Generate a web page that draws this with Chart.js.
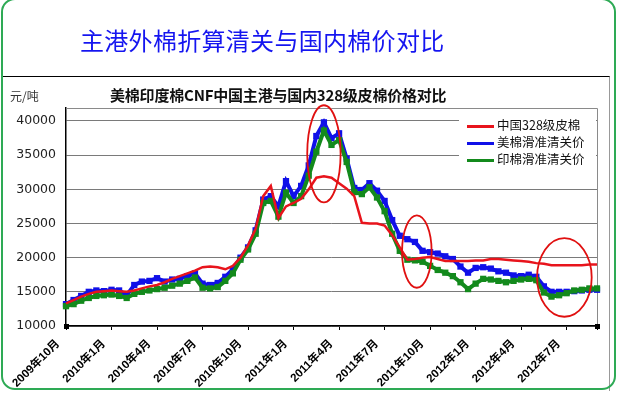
<!DOCTYPE html>
<html>
<head>
<meta charset="utf-8">
<script src="https://cdn.jsdelivr.net/npm/chart.js@4.4.1/dist/chart.umd.min.js"></script>
<style>
  html, body { margin: 0; padding: 0; background: #fff; }
  #wrap { position: relative; width: 618px; height: 396px; overflow: hidden; font-family: 'Noto Sans CJK SC', sans-serif; }
  #frame { position: absolute; left: 1px; top: -2px; width: 611px; height: 388px; border: 2px solid #2eaa55; border-radius: 14px; }
  #inner { position: absolute; left: 3px; top: 76px; width: 606px; height: 314px; border-top: 1px solid #000; border-right: 1px solid #999; }
  #title { position: absolute; left: 80px; top: 22px; font-size: 24px; color: #1515f0; letter-spacing: 0.3px; white-space: nowrap; }
  #subtitle { position: absolute; left: 110px; top: 84px; font-size: 15px; font-weight: bold; color: #111; white-space: nowrap; letter-spacing: -0.2px; }
  #unit { position: absolute; left: 10px; top: 87px; font-size: 12px; color: #333; }
  #chartBox { position: absolute; left: 0; top: 0; width: 618px; height: 396px; }
  #legend { position: absolute; left: 459px; top: 109px; width: 137px; height: 58px; background: #fff; }
  .item { position: absolute; left: 8px; height: 16px; font-size: 12.5px; color: #111; white-space: nowrap; }
  .item span { display: inline-block; width: 27px; height: 3px; vertical-align: middle; margin-right: 3px; }
</style>
</head>
<body>
<div id="wrap">
  <div id="chartBox"><canvas id="chartPreco"></canvas></div>
  <div id="inner"></div>
  <div id="frame"></div>
  <div id="title">主港外棉折算清关与国内棉价对比</div>
  <div id="unit">元/吨</div>
  <div id="subtitle">美棉印度棉CNF中国主港与国内328级皮棉价格对比</div>
  <div id="legend">
    <div class="item" style="top:6px"><span style="background:#e8141c"></span>中国328级皮棉</div>
    <div class="item" style="top:23px"><span style="background:#1010e8"></span>美棉滑准清关价</div>
    <div class="item" style="top:40px"><span style="background:#138a1c"></span>印棉滑准清关价</div>
  </div>
</div>
<script>
// rótulos do eixo x (a cada trimestre)
const tickLabels = ['2009年10月', '2010年1月', '2010年4月', '2010年7月', '2010年10月', '2011年1月',
                    '2011年4月', '2011年7月', '2011年10月', '2012年1月', '2012年4月', '2012年7月'];

// rótulos do eixo y
const yTickValues = [10000, 15000, 20000, 25000, 30000, 35000, 40000];

// semi-mensal, de 2009-10 até 2012-09
const periods = [];
for (let i = 0; i <= 70; i++) {
    const mm = 9 + Math.floor(i / 2);
    const y = 2009 + Math.floor(mm / 12);
    periods.push(y + '年' + (mm % 12 + 1) + '月' + (i % 2 ? '下' : '上'));
}

// 中国328级皮棉
const china328 = [13300, 13800, 14300, 14700, 15000, 15100, 15200, 15100, 15000, 15200,
                  15500, 15800, 16000, 16400, 16900, 17300, 17700, 18100, 18600, 18700,
                  18600, 18300, 18800, 20000, 21800, 24200, 29000, 30500, 25800, 27500,
                  28000, 28600, 30000, 31700, 31900, 31700, 30900, 30100, 29000, 25100,
                  25000, 25000, 24700, 23300, 21500, 19700, 19800, 20000, 20100, 19800,
                  19500, 19500, 19500, 19500, 19600, 19600, 19800, 19800, 19700, 19600,
                  19500, 19400, 19200, 19100, 18900, 18900, 18900, 18900, 18900, 19000, 19000];

// 美棉滑准清关价
const usCotton = [13200, 13800, 14400, 15000, 15200, 15100, 15300, 15200, 14500, 16000,
                  16500, 16600, 17000, 16500, 16800, 16900, 17300, 17700, 16200, 16000,
                  16300, 17200, 18300, 20000, 21500, 24000, 28500, 29000, 27500, 31200,
                  29000, 30500, 33500, 37800, 39800, 37500, 38200, 34500, 30200, 29900,
                  30900, 29800, 28300, 25500, 23200, 22700, 22300, 21000, 20800, 20600,
                  20200, 19800, 18700, 17800, 18500, 18600, 18400, 18000, 17800, 17400,
                  17300, 17500, 17200, 15800, 15000, 15000, 15000, 15100, 15200, 15300, 15300];

// 印棉滑准清关价
const indiaCotton = [12900, 13200, 13700, 14100, 14400, 14500, 14600, 14400, 14100, 14700,
                     15000, 15200, 15400, 15600, 15900, 16200, 16600, 17100, 15600, 15500,
                     15700, 16600, 17700, 19700, 21200, 23500, 28000, 28300, 26000, 29500,
                     28000, 29000, 32000, 35500, 38600, 36500, 37200, 34000, 29600, 29300,
                     30300, 28800, 26800, 23500, 21000, 19700, 19600, 19400, 18800, 18200,
                     17800, 17300, 16400, 15400, 16200, 16900, 16800, 16600, 16400, 16600,
                     16800, 16900, 16700, 14900, 14300, 14500, 14800, 15200, 15300, 15500, 15500];

// elipses vermelhas (centro em índice/valor, raios)
const highlights = [
    { i: 34.0, v: 35200, ri: 2.2, rv: 7100 },
    { i: 46.25, v: 20900, ri: 1.95, rv: 5300 },
    { i: 65.7, v: 17100, ri: 3.6, rv: 5750 }
];

const extras = {
    id: 'extras',
    beforeDatasetsDraw(chart) {
        const { ctx, chartArea: a } = chart;
        ctx.save();
        ctx.strokeStyle = '#8a8a8a';
        ctx.lineWidth = 1;
        ctx.beginPath();
        ctx.moveTo(a.left, a.top + 0.5);
        ctx.lineTo(a.right + 0.5, a.top + 0.5);
        ctx.lineTo(a.right + 0.5, a.bottom);
        ctx.stroke();
        ctx.restore();
    },
    afterDatasetsDraw(chart) {
        const { ctx, scales: { x, y }, chartArea: a } = chart;
        ctx.save();
        ctx.strokeStyle = '#e01010';
        ctx.lineWidth = 1.8;
        highlights.forEach(h => {
            const cx = x.getPixelForValue(h.i);
            const cy = y.getPixelForValue(h.v);
            const rx = x.getPixelForValue(h.i + h.ri) - cx;
            const ry = cy - y.getPixelForValue(h.v + h.rv);
            ctx.beginPath();
            ctx.ellipse(cx, cy, rx, ry, 0, 0, Math.PI * 2);
            ctx.stroke();
        });
        // marcadores nas pontas do eixo
        ctx.fillStyle = '#000';
        ctx.fillRect(a.left - 2, a.bottom - 2, 5, 5);
        ctx.fillRect(a.right - 2, a.bottom - 2, 5, 5);
        ctx.restore();
    }
};

document.addEventListener('DOMContentLoaded', () => {
    const ctxPreco = document.getElementById('chartPreco').getContext('2d');
    new Chart(ctxPreco, {
        type: 'line',
        data: {
            labels: periods,
            datasets: [
                {
                    label: '中国328级皮棉',
                    data: china328,
                    borderColor: '#e8141c',
                    borderWidth: 2.5,
                    pointRadius: 0,
                    order: 0
                },
                {
                    label: '美棉滑准清关价',
                    data: usCotton,
                    borderColor: '#1010e8',
                    backgroundColor: '#1010e8',
                    borderWidth: 4,
                    pointStyle: 'rect',
                    pointRadius: 1.6,
                    order: 2
                },
                {
                    label: '印棉滑准清关价',
                    data: indiaCotton,
                    borderColor: '#138a1c',
                    backgroundColor: '#138a1c',
                    borderWidth: 4,
                    pointStyle: 'rect',
                    pointRadius: 1.6,
                    order: 1
                }
            ]
        },
        options: {
            responsive: true,
            maintainAspectRatio: false,
            animation: false,
            layout: { padding: { left: 0, right: 21, top: 108, bottom: 0 } },
            plugins: { legend: { display: false }, tooltip: { enabled: false } },
            elements: { line: { tension: 0 } },
            scales: {
                x: {
                    grid: {
                        drawOnChartArea: false,
                        tickLength: 4,
                        tickColor: c => (c.index % 6 === 0 || c.index === 70) ? '#000' : 'rgba(0,0,0,0)'
                    },
                    border: { color: '#000', width: 1.5 },
                    ticks: {
                        autoSkip: false,
                        minRotation: 45,
                        maxRotation: 45,
                        padding: 7,
                        labelOffset: -8,
                        color: '#000',
                        font: { family: "'Liberation Sans', 'Noto Sans CJK SC'", size: 11.5, weight: 'bold' },
                        callback: (v, i) => i % 6 === 0 ? tickLabels[i / 6] : ''
                    },
                    afterFit: s => { s.height = 70; }
                },
                y: {
                    min: 10000,
                    max: 41900,
                    grid: { color: '#7a7a7a', drawTicks: false },
                    border: { color: '#000', width: 1.5 },
                    ticks: {
                        padding: 10,
                        color: '#222',
                        font: { family: "'DejaVu Sans'", size: 12.5 },
                        callback: v => String(v)
                    },
                    afterBuildTicks: s => { s.ticks = yTickValues.map(v => ({ value: v })); },
                    afterFit: s => { s.width = 66; }
                }
            }
        },
        plugins: [extras]
    });
});
</script>
</body>
</html>
